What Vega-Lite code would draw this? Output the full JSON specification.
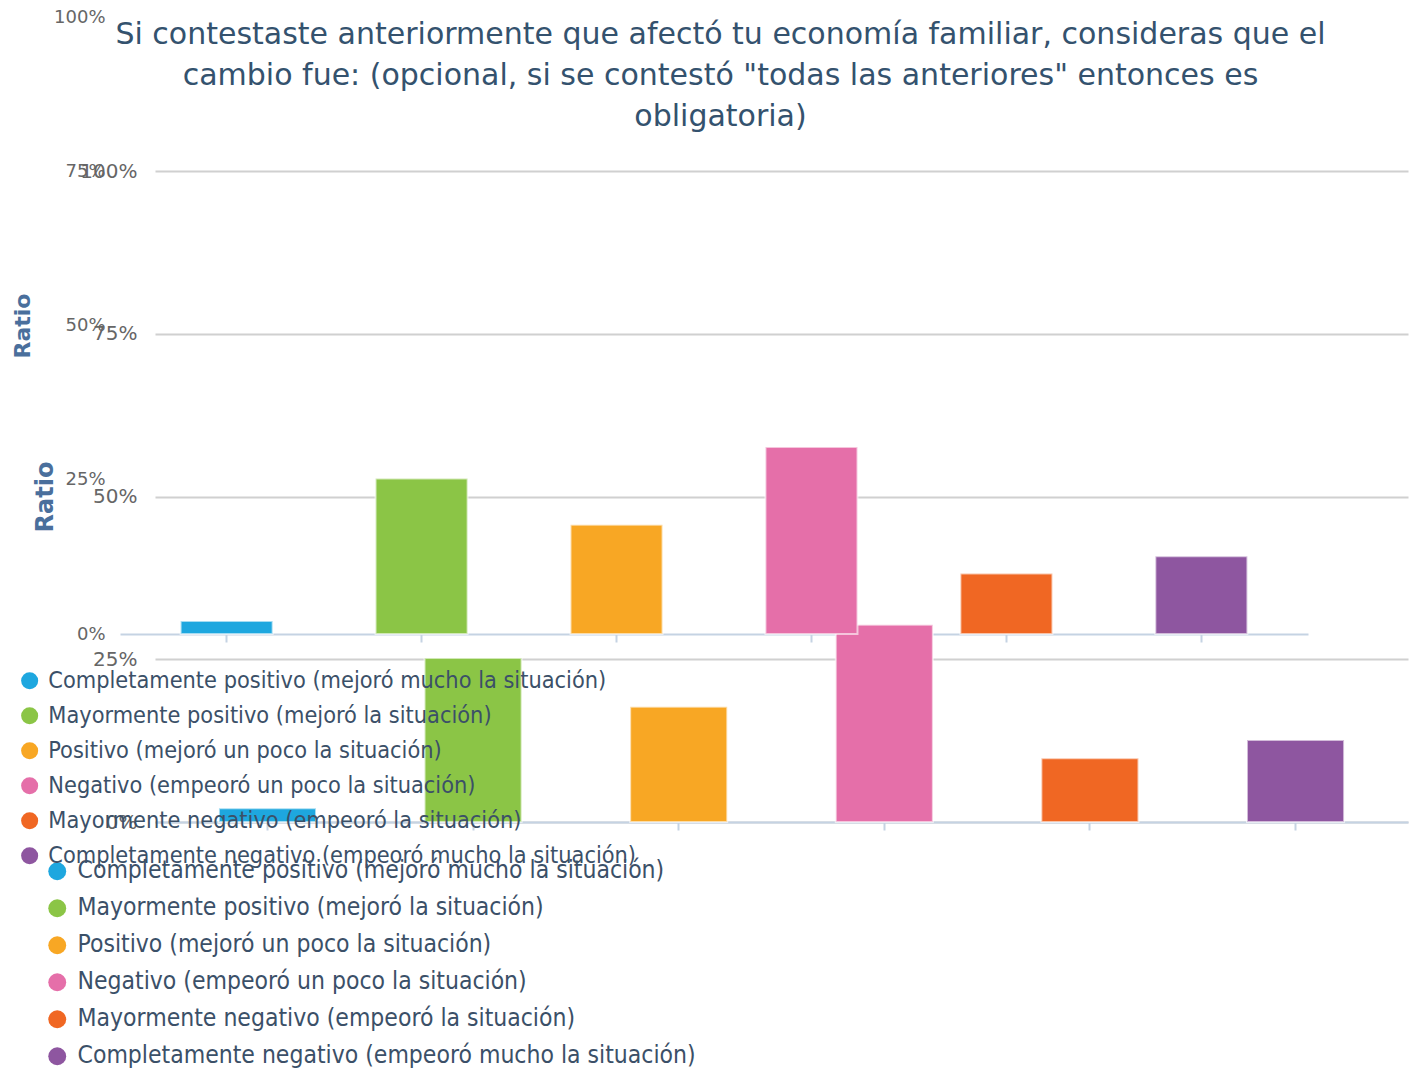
{
  "$schema": "https://vega.github.io/schema/vega-lite/v6.json",
  "autosize": "none",
  "width": 1253,
  "height": 651,
  "padding": {"left": 155, "top": 171, "right": 10, "bottom": 249},
  "background": "white",
  "title": {
    "text": [
      "Si contestaste anteriormente que afectó tu economía familiar, consideras que el",
      "cambio fue: (opcional, si se contestó \"todas las anteriores\" entonces es",
      "obligatoria)"
    ],
    "font": "DejaVu Sans",
    "fontSize": 30,
    "fontWeight": "normal",
    "color": "#34526e",
    "lineHeight": 41,
    "anchor": "middle",
    "dx": -61,
    "offset": -124
  },
  "config": {"view": {"stroke": null}},
  "data": {
    "values": [
      {"cat": "Completamente positivo (mejoró mucho la situación)", "ratio": 0.021},
      {"cat": "Mayormente positivo (mejoró la situación)", "ratio": 0.252},
      {"cat": "Positivo (mejoró un poco la situación)", "ratio": 0.177},
      {"cat": "Negativo (empeoró un poco la situación)", "ratio": 0.303},
      {"cat": "Mayormente negativo (empeoró la situación)", "ratio": 0.098},
      {"cat": "Completamente negativo (empeoró mucho la situación)", "ratio": 0.126}
    ]
  },
  "layer": [
    {
      "mark": {"type": "bar", "stroke": "white", "strokeWidth": 2, "strokeOpacity": 0.6},
      "encoding": {
        "x": {
          "field": "cat", "type": "nominal", "sort": null,
          "scale": {"paddingInner": 0.528, "paddingOuter": 0.311},
          "axis": {"orient": "bottom", "labels": false, "title": null, "grid": false,
            "domainColor": "#c5d3e3", "domainWidth": 2, "tickColor": "#c5d3e3", "tickSize": 8, "tickWidth": 2}
        },
        "y": {
          "field": "ratio", "type": "quantitative",
          "scale": {"domain": [0, 1]},
          "axis": {"orient": "left", "format": ".0%", "values": [0, 0.25, 0.5, 0.75, 1],
            "title": "Ratio", "titleFont": "DejaVu Sans", "titleFontSize": 24, "titleFontWeight": "bold",
            "titleColor": "#4a6f9c", "titlePadding": 22,
            "labelFont": "DejaVu Sans", "labelFontSize": 20, "labelColor": "#666666", "labelPadding": 18,
            "ticks": false, "domain": false, "gridColor": "#d0d0d0", "gridWidth": 2}
        },
        "color": {
          "field": "cat", "type": "nominal", "sort": null,
          "scale": {
            "domain": [
              "Completamente positivo (mejoró mucho la situación)",
              "Mayormente positivo (mejoró la situación)",
              "Positivo (mejoró un poco la situación)",
              "Negativo (empeoró un poco la situación)",
              "Mayormente negativo (empeoró la situación)",
              "Completamente negativo (empeoró mucho la situación)"
            ],
            "range": ["#1ea7df", "#8bc546", "#f8a724", "#e56fa9", "#f06723", "#8e56a0"]
          },
          "legend": {"orient": "none", "legendX": -110, "legendY": 688, "title": null, "padding": 0,
            "symbolType": "circle", "symbolSize": 320, "symbolStrokeWidth": 0, "symbolOpacity": 1,
            "labelFont": "DejaVu Sans Condensed", "labelFontSize": 24.5, "labelColor": "#3b5068",
            "labelOffset": 8, "rowPadding": 12, "labelLimit": 1000}
        }
      }
    },
    {
      "mark": {"type": "bar", "stroke": "white", "strokeWidth": 2, "strokeOpacity": 0.6},
      "encoding": {
        "x": {
          "field": "cat", "type": "nominal", "sort": null,
          "scale": {"range": [-35, 1153], "paddingInner": 0.528, "paddingOuter": 0.311},
          "axis": {"orient": "bottom", "offset": -188, "labels": false, "title": null, "grid": false,
            "domainColor": "#c5d3e3", "domainWidth": 2, "tickColor": "#c5d3e3", "tickSize": 8, "tickWidth": 2}
        },
        "y": {
          "field": "ratio", "type": "quantitative",
          "scale": {"domain": [0, 1], "range": [463, -154]},
          "axis": {"orient": "left", "offset": 35, "format": ".0%", "values": [0, 0.25, 0.5, 0.75, 1],
            "title": "Ratio", "titleFont": "DejaVu Sans", "titleFontSize": 22, "titleFontWeight": "bold",
            "titleColor": "#4a6f9c", "titlePadding": 19,
            "labelFont": "DejaVu Sans", "labelFontSize": 18, "labelColor": "#666666", "labelPadding": 15,
            "ticks": false, "domain": false, "gridColor": "#d0d0d0", "gridWidth": 2}
        },
        "color": {
          "field": "cat", "type": "nominal", "sort": null,
          "scale": {
            "domain": [
              "Completamente positivo (mejoró mucho la situación)",
              "Mayormente positivo (mejoró la situación)",
              "Positivo (mejoró un poco la situación)",
              "Negativo (empeoró un poco la situación)",
              "Mayormente negativo (empeoró la situación)",
              "Completamente negativo (empeoró mucho la situación)"
            ],
            "range": ["#1ea7df", "#8bc546", "#f8a724", "#e56fa9", "#f06723", "#8e56a0"]
          },
          "legend": {"orient": "none", "legendX": -137, "legendY": 498, "title": null, "padding": 0,
            "symbolType": "circle", "symbolSize": 290, "symbolStrokeWidth": 0, "symbolOpacity": 1,
            "labelFont": "DejaVu Sans Condensed", "labelFontSize": 23.3, "labelColor": "#3b5068",
            "labelOffset": 7, "rowPadding": 11, "labelLimit": 1000}
        }
      }
    }
  ],
  "resolve": {
    "scale": {"x": "independent", "y": "independent", "color": "independent"},
    "axis": {"x": "independent", "y": "independent"},
    "legend": {"color": "independent"}
  }
}
